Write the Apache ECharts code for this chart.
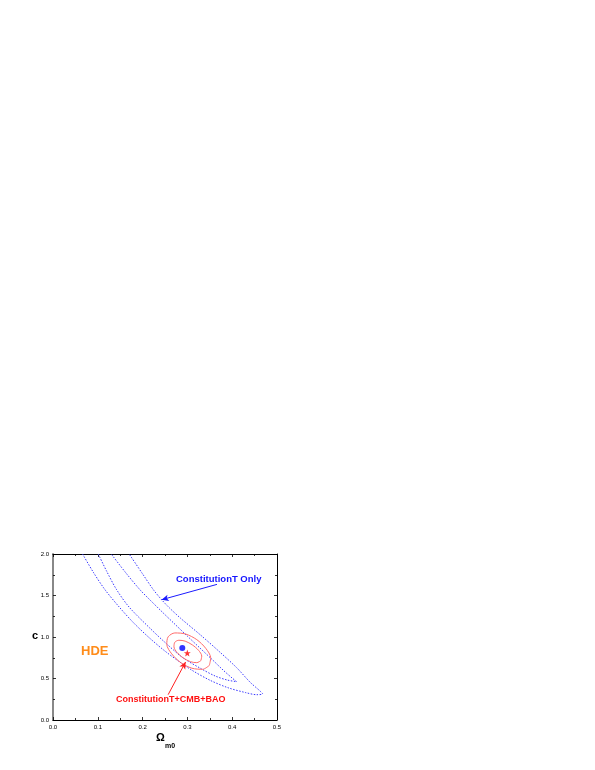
<!DOCTYPE html>
<html>
<head>
<meta charset="utf-8">
<script src="https://cdn.jsdelivr.net/npm/echarts@6/dist/echarts.min.js"></script>
<style>
  html, body { margin: 0; padding: 0; background: #fff; }
  #chart { width: 595px; height: 770px; }
</style>
</head>
<body>
<div id="chart"></div>
<script>
// x: Omega_m0, y: c
var xTicks = [0, 0.1, 0.2, 0.3, 0.4, 0.5];
var yTicks = [0, 0.5, 1.0, 1.5, 2.0];

// ConstitutionT only, 2 sigma contour (open at top, c = 2)
var blueOuter = [
  [0.066, 2.0], [0.09, 1.78], [0.116, 1.57], [0.148, 1.36], [0.18, 1.17],
  [0.215, 0.99], [0.25, 0.83], [0.28, 0.71], [0.31, 0.60], [0.35, 0.48],
  [0.39, 0.39], [0.43, 0.33], [0.455, 0.305], [0.468, 0.315], [0.462, 0.35],
  [0.44, 0.455], [0.41, 0.63], [0.37, 0.83], [0.328, 1.03], [0.285, 1.225],
  [0.26, 1.35], [0.2425, 1.449], [0.224, 1.57], [0.2, 1.76], [0.17, 2.0]
];
// ConstitutionT only, 1 sigma contour
var blueInner = [
  [0.101, 2.0], [0.12, 1.79], [0.142, 1.57], [0.17, 1.36], [0.216, 1.108],
  [0.25, 0.935], [0.29, 0.75], [0.33, 0.62], [0.362, 0.53], [0.39, 0.48],
  [0.41, 0.462], [0.40, 0.505], [0.38, 0.60], [0.355, 0.73], [0.328, 0.867],
  [0.30, 1.01], [0.27, 1.165], [0.245, 1.295], [0.216, 1.449], [0.194, 1.57],
  [0.163, 1.77], [0.13, 2.0]
];
// ConstitutionT+CMB+BAO, 2 sigma
var redOuter = [
  [0.349, 0.658], [0.334, 0.611], [0.310, 0.624], [0.285, 0.692], [0.265, 0.797],
  [0.254, 0.911], [0.257, 1.002], [0.272, 1.049], [0.296, 1.036], [0.321, 0.968],
  [0.341, 0.863], [0.352, 0.749], [0.349, 0.658]
];
// ConstitutionT+CMB+BAO, 1 sigma
var redInner = [
  [0.330, 0.715], [0.321, 0.691], [0.307, 0.702], [0.291, 0.747], [0.277, 0.813],
  [0.270, 0.882], [0.272, 0.937], [0.281, 0.961], [0.295, 0.950], [0.311, 0.905],
  [0.325, 0.839], [0.332, 0.770], [0.330, 0.715]
];
var bestBlue = [[0.2886, 0.867]];
var bestRed = [[0.2998, 0.807]];
var arrowBlue = [[0.366, 1.634], [0.2425, 1.449]];
var arrowRed = [[0.257, 0.305], [0.296, 0.699]];

var starPath = 'path://M0,-10L2.35,-3.24L9.51,-3.09L3.8,1.24L5.88,8.09L0,4L-5.88,8.09L-3.8,1.24L-9.51,-3.09L-2.35,-3.24Z';
var font = 'Liberation Sans, Arial, sans-serif';

function axisBase(pos, min, max, step, labels, lineColor, lineWidth){
  return {
    type: 'value', position: pos, min: min, max: max, interval: step,
    axisLine: { show: true, onZero: false, lineStyle: { color: lineColor, width: lineWidth } },
    axisTick: { show: true, inside: true, length: 3, lineStyle: { color: '#000', width: 0.8 } },
    minorTick: { show: true, splitNumber: 2, length: 2, lineStyle: { color: '#000', width: 0.8 } },
    splitLine: { show: false },
    axisLabel: {
      show: labels, fontSize: 6, fontFamily: font, color: '#000', margin: 4,
      formatter: function(v){ return v.toFixed(1); }
    }
  };
}

var chart = echarts.init(document.getElementById('chart'), null, { renderer: 'canvas' });

function contour(d, color, dash){
  return {
    type: 'line', data: d, smooth: 0.3, showSymbol: false, symbol: 'none',
    lineStyle: { color: color, width: 1, type: dash }, z: 2, silent: true
  };
}

function arrow(d, color){
  return {
    type: 'line', data: [], silent: true,
    markLine: {
      silent: true, symbol: ['none', 'arrow'], symbolSize: [5, 7],
      label: { show: false },
      lineStyle: { color: color, width: 1, type: 'solid' },
      data: [[{ coord: d[0] }, { coord: d[1] }]]
    }
  };
}

chart.setOption({
  animation: false,
  grid: { left: 53, top: 554, width: 224, height: 166 },
  xAxis: [
    axisBase('bottom', 0, 0.5, 0.1, true, '#000', 1),
    axisBase('top', 0, 0.5, 0.1, false, '#000', 1)
  ],
  yAxis: [
    axisBase('left', 0, 2, 0.5, true, '#888', 2),
    axisBase('right', 0, 2, 0.5, false, '#000', 1)
  ],
  series: [
    contour(blueOuter, '#3a3aff', [1.5, 1.5]),
    contour(blueInner, '#3a3aff', [1.5, 1.5]),
    contour(redOuter, '#ff6a6a', 'solid'),
    contour(redInner, '#ff6a6a', 'solid'),
    arrow(arrowBlue, '#1a1aff'),
    arrow(arrowRed, '#ff2020'),
    {
      type: 'scatter', data: bestBlue, symbol: 'circle', symbolSize: 6,
      itemStyle: { color: '#0000ff' }, z: 5, silent: true
    },
    {
      type: 'scatter', data: bestRed, symbol: starPath, symbolSize: 7,
      itemStyle: { color: '#ff0000' }, z: 5, silent: true
    }
  ],
  graphic: [
    { type: 'text', left: 176, top: 574, style: { text: 'ConstitutionT Only', font: 'bold 9.5px ' + font, fill: '#1515ff' } },
    { type: 'text', left: 81, top: 645, style: { text: 'HDE', font: 'bold 13px ' + font, fill: '#ff8c1a' } },
    { type: 'text', left: 116, top: 695, style: { text: 'ConstitutionT+CMB+BAO', font: 'bold 9px ' + font, fill: '#ff1010' } },
    { type: 'text', left: 32, top: 630, style: { text: 'c', font: 'bold 11px ' + font, fill: '#000' } },
    { type: 'text', left: 156, top: 732, style: { text: 'Ω', font: 'bold 11px ' + font, fill: '#000' } },
    { type: 'text', left: 165, top: 743, style: { text: 'm0', font: 'bold 7px ' + font, fill: '#000' } }
  ]
});
</script>
</body>
</html>
